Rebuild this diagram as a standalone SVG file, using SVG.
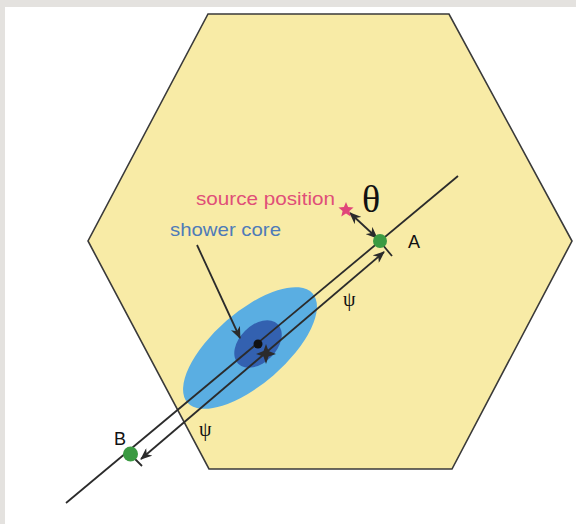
<svg xmlns="http://www.w3.org/2000/svg" width="576" height="524" viewBox="0 0 576 524">
<defs>
<style>
.ln{stroke:#2b2b2b;stroke-width:1.8;fill:none}
.lbl{font-family:"Liberation Sans",Arial,sans-serif}
.grk{font-family:"Liberation Serif","Times New Roman",serif;fill:#111}
</style>
<marker id="ah" viewBox="0 0 12 10" refX="11" refY="5" markerWidth="12" markerHeight="10" markerUnits="userSpaceOnUse" orient="auto-start-reverse">
<path d="M0,0 L12,5 L0,10 L3.5,5 z" fill="#2b2b2b"/>
</marker>
</defs>
<rect x="0" y="0" width="576" height="524" fill="#ffffff"/>
<rect x="0" y="0" width="576" height="7" fill="#e4e2df"/>
<rect x="0" y="0" width="5" height="524" fill="#e4e2df"/>
<g id="hexagon">
<polygon points="208,14 449,14 572,241 452,469 209,469 88,241" fill="#f8eba6" stroke="#3a3a3a" stroke-width="1.6"/>
</g>
<g id="shower">
<ellipse cx="250" cy="348" rx="83" ry="36" transform="rotate(-41 250 348)" fill="#5aaee2"/>
<ellipse cx="258" cy="344" rx="28" ry="18.5" transform="rotate(-45 258 344)" fill="#3361b0"/>
</g>
<g id="connectors">
<line class="ln" x1="66" y1="503" x2="458" y2="176"/>
<line class="ln" x1="141" y1="459" x2="384" y2="252" marker-start="url(#ah)" marker-end="url(#ah)"/>
<line class="ln" x1="350" y1="213" x2="377" y2="238" marker-start="url(#ah)" marker-end="url(#ah)"/>
<line class="ln" x1="377" y1="238" x2="392" y2="256"/>
<line class="ln" x1="130" y1="454" x2="142" y2="466"/>
<line class="ln" x1="197" y1="245" x2="240" y2="338" marker-end="url(#ah)"/>
</g>
<g id="core">
<circle cx="258" cy="344" r="4.5" fill="#111"/>
<path d="M266,344 L268.5,351 L276,354 L268.5,356.5 L266,364 L263.5,356.5 L256,354 L263.5,351 z" fill="#2b2b2b"/>
</g>
<g id="pointA">
<circle cx="380" cy="241" r="7" fill="#3b9a42"/>
<text class="lbl" x="408" y="248" font-size="18" fill="#111">A</text>
</g>
<g id="pointB">
<circle cx="130.5" cy="454" r="7.5" fill="#3b9a42"/>
<text class="lbl" x="114" y="445" font-size="18" fill="#111">B</text>
</g>
<g id="source">
<path d="M346,202 L348.1,207.1 L353.6,207.5 L349.4,211 L350.7,216.4 L346,213.5 L341.3,216.4 L342.6,211 L338.4,207.5 L343.9,207.1 z" fill="#e0457a"/>
<text class="lbl" x="196" y="205" font-size="19" fill="#e04f78" textLength="139" lengthAdjust="spacingAndGlyphs">source position</text>
</g>
<g id="showercore-label">
<text class="lbl" x="170" y="236" font-size="19" fill="#4f7bb8" textLength="111" lengthAdjust="spacingAndGlyphs">shower core</text>
</g>
<text class="grk" x="362" y="212" font-size="38">θ</text>
<text class="grk" x="343" y="306" font-size="20">ψ</text>
<text class="grk" x="199" y="436" font-size="20">ψ</text>
</svg>
